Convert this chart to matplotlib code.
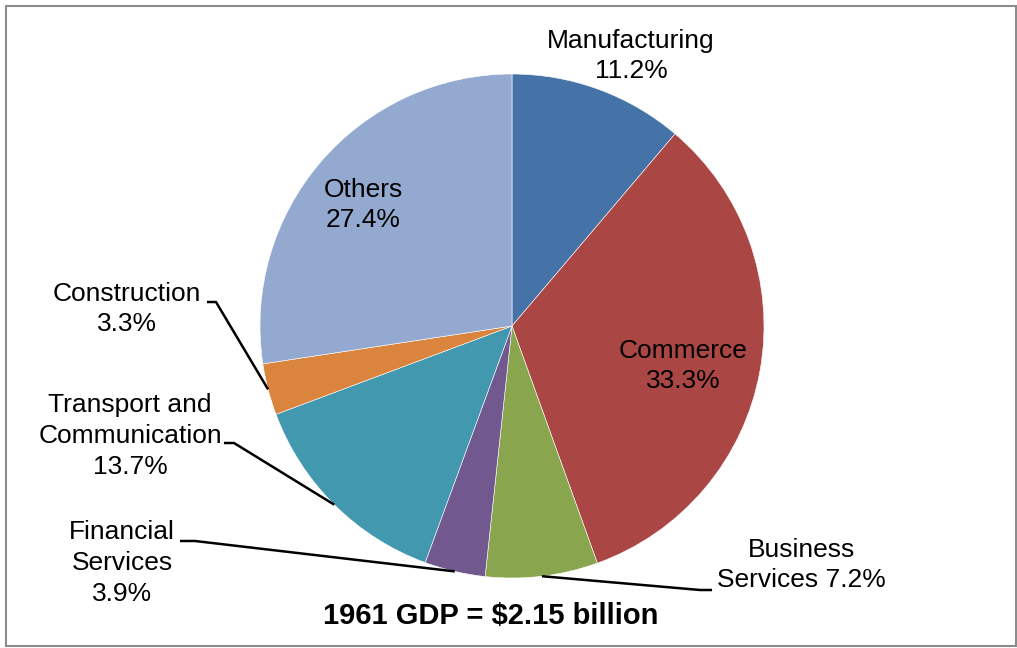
import matplotlib.pyplot as plt
from matplotlib.patches import Rectangle
import numpy as np

plt.rcParams['font.family'] = ['Liberation Sans', 'DejaVu Sans']

# 1961 GDP shares by sector (%)
sectors = ["Manufacturing", "Commerce", "Business\nServices", "Financial\nServices",
           "Transport and\nCommunication", "Construction", "Others"]
shares = [11.2, 33.3, 7.2, 3.9, 13.7, 3.3, 27.4]
colors = ["#4572A7", "#AA4643", "#89A54E", "#71588F", "#4198AF", "#DB843D", "#93A9CF"]
title = "1961 GDP = $2.15 billion"

W, H = 1017, 648
fig = plt.figure(figsize=(W / 100, H / 100), dpi=100)
ax = fig.add_axes([0, 0, 1, 1])

def Y(y):
    # convert from top-down pixel rows
    return H - y

cx, cy, r = 512, Y(326), 252
wedges, _ = ax.pie(shares, colors=colors, startangle=90, counterclock=False,
                   center=(cx, cy), radius=r, frame=True,
                   wedgeprops=dict(linewidth=0.4, edgecolor='white'))
ax.set_xlim(0, W)
ax.set_ylim(0, H)
ax.set_aspect('equal')
ax.axis('off')

fs = 19
# label text centres and leader elbow points (None = label sits on/near slice)
layout = {
    0: ((631, 56), None),
    1: ((683, 366), None),
    2: ((801, 565), [(712, 590), (700, 590)]),
    3: ((122, 563), [(180, 541), (195, 541)]),
    4: ((130, 436), [(224, 443), (234, 443)]),
    5: ((127, 309), [(207, 302), (216, 302)]),
    6: ((363, 205), None),
}

for i, (name, val) in enumerate(zip(sectors, shares)):
    if i == 2:
        label = f"{name} {val}%"
    else:
        label = f"{name}\n{val}%"
    (tx, ty), elbow = layout[i]
    ax.text(tx, Y(ty), label, ha='center', va='center', fontsize=fs,
            multialignment='center', linespacing=1.36)
    if elbow:
        w = wedges[i]
        mid = np.deg2rad((w.theta1 + w.theta2) / 2)
        ex, ey = cx + r * np.cos(mid), cy + r * np.sin(mid)
        xs = [elbow[0][0], elbow[1][0], ex]
        ys = [Y(elbow[0][1]), Y(elbow[1][1]), ey]
        ax.plot(xs, ys, color='black', linewidth=1.8, solid_capstyle='butt')

ax.text(491, Y(616), title, ha='center', va='center', fontsize=21,
        fontweight='bold')

# chart border
fig.patches.append(Rectangle((5.5 / W, 2 / H), (1016 - 5.5) / W, (642 - 2) / H,
                             transform=fig.transFigure, fill=False,
                             edgecolor='#8c8c8c', linewidth=1.5))

fig.savefig("out.png", dpi=100)
